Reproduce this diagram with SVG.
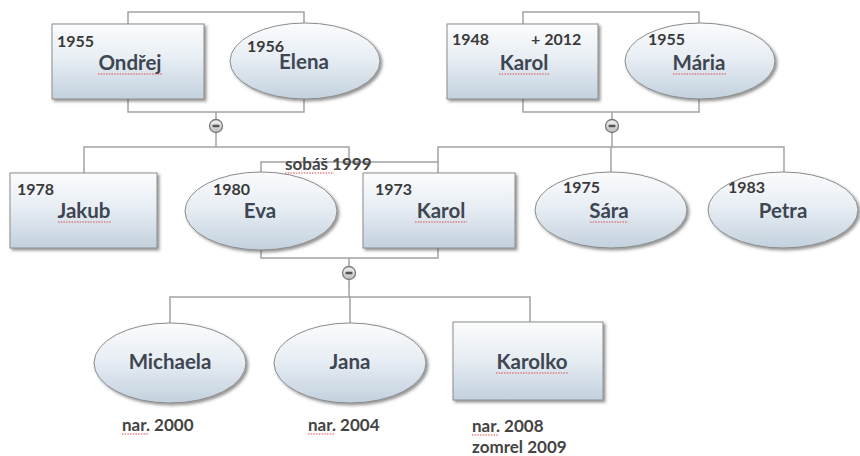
<svg xmlns="http://www.w3.org/2000/svg" width="860" height="456" viewBox="0 0 860 456">
  <defs>
    <linearGradient id="fill" x1="0" y1="0" x2="0" y2="1">
      <stop offset="0" stop-color="#fbfcfd"/>
      <stop offset="0.45" stop-color="#e8eef4"/>
      <stop offset="1" stop-color="#c3d1de"/>
    </linearGradient>
    <linearGradient id="knobFill" x1="0" y1="0" x2="0" y2="1">
      <stop offset="0" stop-color="#f4f4f4"/>
      <stop offset="1" stop-color="#bdbdbd"/>
    </linearGradient>
    <filter id="shadow" x="-10%" y="-15%" width="125%" height="135%">
      <feDropShadow dx="2" dy="2" stdDeviation="1.5" flood-color="#3a3a3a" flood-opacity="0.55"/>
    </filter>
    <g id="knob">
      <circle r="6.5" fill="url(#knobFill)" stroke="#7a7a7a" stroke-width="1.3"/>
      <rect x="-3.5" y="-1.3" width="7" height="2.6" rx="1" fill="#555"/>
    </g>
  </defs>
  <style>
    .wire{fill:none;stroke:#a2a2a2;stroke-width:1.5}
    .shape{fill:url(#fill);stroke:#8c8c8c;stroke-width:1;filter:url(#shadow)}
    .yr{font-family:Lato,"Liberation Sans",sans-serif;font-size:16px;font-weight:700;fill:#3a3a3a}
    .nm{font-family:Lato,"Liberation Sans",sans-serif;font-size:20.5px;font-weight:700;fill:#3e4652;text-anchor:middle}
    .note{font-family:Lato,"Liberation Sans",sans-serif;font-size:17px;font-weight:700;fill:#444}
    .spell{fill:none;stroke:#e04a4a;stroke-width:1.1;stroke-dasharray:1.5 1.2}
  </style>

  <rect width="860" height="456" fill="#ffffff"/>

  <!-- connectors -->
  <g id="connectors">
    <!-- Ondřej + Elena -->
    <path class="wire" d="M128,24 V12 H304 V23"/>
    <path class="wire" d="M128,99 V112 H304 V99"/>
    <path class="wire" d="M216,112 V119.5 M216,132.5 V147"/>
    <path class="wire" d="M84,173 V147 H349 V162"/>
    <!-- Karol + Mária -->
    <path class="wire" d="M523,24 V12 H699 V23"/>
    <path class="wire" d="M523,99 V112 H699 V99"/>
    <path class="wire" d="M612,112 V119.5 M612,132.5 V147"/>
    <path class="wire" d="M438,162 V147 H784 V172 M611,147 V172"/>
    <!-- Eva + Karol -->
    <path class="wire" d="M261,172 V162 H438 V173"/>
    <path class="wire" d="M261,250 V258 H438 V248"/>
    <path class="wire" d="M349,258 V266.5 M349,279.5 V297"/>
    <path class="wire" d="M170,323 V297 H530 V322 M350,297 V323"/>
    <use href="#knob" x="216" y="126"/>
    <use href="#knob" x="612" y="126"/>
    <use href="#knob" x="349" y="273"/>
    <text class="note" x="285" y="170">sobáš 1999</text>
    <path class="spell" d="M285,173 H334"/>
  </g>

  <!-- generation 1 -->
  <g id="ondrej">
    <rect class="shape" x="52" y="24" width="152" height="75"/>
    <text class="yr" x="57" y="47">1955</text>
    <text class="nm" x="130" y="70">Ondřej</text>
    <path class="spell" d="M98,74 H162"/>
  </g>
  <g id="elena">
    <ellipse class="shape" cx="305" cy="61" rx="75" ry="38"/>
    <text class="yr" x="247" y="52">1956</text>
    <text class="nm" x="304" y="69">Elena</text>
  </g>
  <g id="karol-1948">
    <rect class="shape" x="447" y="24" width="151" height="75"/>
    <text class="yr" x="452" y="45">1948</text>
    <text class="yr" x="531" y="45">+ 2012</text>
    <text class="nm" x="524" y="70">Karol</text>
    <path class="spell" d="M499,74 H549"/>
  </g>
  <g id="maria">
    <ellipse class="shape" cx="700" cy="61" rx="75" ry="38"/>
    <text class="yr" x="648" y="45">1955</text>
    <text class="nm" x="699" y="70">Mária</text>
    <path class="spell" d="M673,74 H726"/>
  </g>

  <!-- generation 2 -->
  <g id="jakub">
    <rect class="shape" x="10" y="173" width="147" height="75"/>
    <text class="yr" x="17" y="195">1978</text>
    <text class="nm" x="84" y="218">Jakub</text>
    <path class="spell" d="M58,222 H111"/>
  </g>
  <g id="eva">
    <ellipse class="shape" cx="261" cy="211" rx="76" ry="39"/>
    <text class="yr" x="213" y="195">1980</text>
    <text class="nm" x="260" y="218">Eva</text>
  </g>
  <g id="karol-1973">
    <rect class="shape" x="363" y="173" width="152" height="75"/>
    <text class="yr" x="375" y="195">1973</text>
    <text class="nm" x="441" y="218">Karol</text>
    <path class="spell" d="M415,222 H467"/>
  </g>
  <g id="sara">
    <ellipse class="shape" cx="611" cy="210" rx="76" ry="38"/>
    <text class="yr" x="563" y="193">1975</text>
    <text class="nm" x="609" y="218">Sára</text>
    <path class="spell" d="M590,222 H628"/>
  </g>
  <g id="petra">
    <ellipse class="shape" cx="783" cy="210" rx="75" ry="38"/>
    <text class="yr" x="728" y="193">1983</text>
    <text class="nm" x="783" y="218">Petra</text>
  </g>

  <!-- generation 3 -->
  <g id="michaela">
    <ellipse class="shape" cx="170" cy="363" rx="76" ry="40"/>
    <text class="nm" x="170" y="369">Michaela</text>
    <text class="note" x="122" y="431">nar. 2000</text>
    <path class="spell" d="M122,434 H148"/>
  </g>
  <g id="jana">
    <ellipse class="shape" cx="350" cy="363" rx="76" ry="40"/>
    <text class="nm" x="350" y="369">Jana</text>
    <text class="note" x="308" y="431">nar. 2004</text>
    <path class="spell" d="M308,434 H334"/>
  </g>
  <g id="karolko">
    <rect class="shape" x="453" y="322" width="150" height="78"/>
    <text class="nm" x="532" y="369">Karolko</text>
    <path class="spell" d="M496,373 H569"/>
    <text class="note" x="472" y="432">nar. 2008</text>
    <path class="spell" d="M472,435 H498"/>
    <text class="note" x="472" y="453">zomrel 2009</text>
  </g>
</svg>
